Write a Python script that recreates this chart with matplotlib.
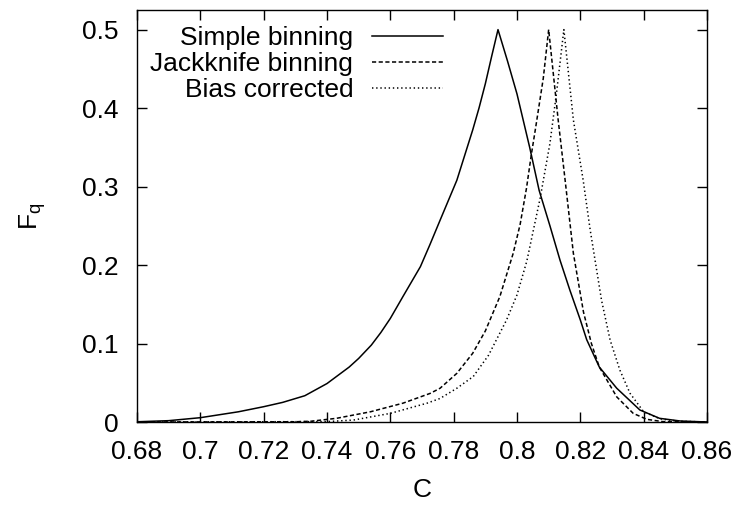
import matplotlib
matplotlib.use("Agg")
import matplotlib.pyplot as plt

# ----------------------------
# Data
# ----------------------------
c_simple = [0.680, 0.690, 0.700, 0.712, 0.720, 0.726, 0.733, 0.740, 0.747, 0.750,
            0.754, 0.757, 0.760, 0.764, 0.7695, 0.7725, 0.7757, 0.781, 0.7835, 0.786,
            0.788, 0.790, 0.792, 0.794, 0.797, 0.800, 0.804, 0.807, 0.8104, 0.8136,
            0.8167, 0.820, 0.822, 0.826, 0.8315, 0.8388, 0.845, 0.8515, 0.860]
f_simple = [0.0003, 0.0017, 0.0055, 0.013, 0.0195, 0.025, 0.0335, 0.049, 0.070, 0.081,
            0.098, 0.114, 0.132, 0.160, 0.198, 0.226, 0.257, 0.308, 0.340, 0.372,
            0.400, 0.431, 0.466, 0.500, 0.460, 0.418, 0.350, 0.295, 0.250, 0.206,
            0.168, 0.130, 0.105, 0.070, 0.043, 0.0153, 0.0047, 0.0013, 0.0]

c_jack = [0.680, 0.730, 0.735, 0.743, 0.7537, 0.764, 0.7726, 0.7757, 0.781, 0.786,
          0.790, 0.7946, 0.7988, 0.801, 0.803, 0.8045, 0.806, 0.8083, 0.810, 0.813,
          0.8152, 0.8178, 0.821, 0.8235, 0.826, 0.8315, 0.8367, 0.841, 0.846, 0.860]
f_jack = [0.0, 0.0003, 0.001, 0.0047, 0.013, 0.024, 0.0365, 0.043, 0.062, 0.0875,
          0.116, 0.160, 0.215, 0.252, 0.298, 0.340, 0.378, 0.438, 0.500, 0.385,
          0.308, 0.215, 0.140, 0.100, 0.070, 0.032, 0.011, 0.0034, 0.0005, 0.0]

c_bias = [0.680, 0.740, 0.7484, 0.760, 0.7716, 0.7757, 0.781, 0.7862, 0.791, 0.7967,
          0.800, 0.8031, 0.8073, 0.8104, 0.8125, 0.8148, 0.8178, 0.8209, 0.8231, 0.8267,
          0.8294, 0.8325, 0.8357, 0.840, 0.8452, 0.851, 0.860]
f_bias = [0.0, 0.0005, 0.0025, 0.011, 0.024, 0.030, 0.043, 0.058, 0.085, 0.130,
          0.162, 0.205, 0.285, 0.355, 0.420, 0.500, 0.385, 0.308, 0.245, 0.155,
          0.1045, 0.066, 0.0365, 0.013, 0.004, 0.001, 0.0]

labels = ["Simple binning", "Jackknife binning", "Bias corrected"]
x_ticks = [0.68, 0.70, 0.72, 0.74, 0.76, 0.78, 0.80, 0.82, 0.84, 0.86]
x_tick_labels = ["0.68", "0.7", "0.72", "0.74", "0.76", "0.78", "0.8", "0.82", "0.84", "0.86"]
y_ticks = [0, 0.1, 0.2, 0.3, 0.4, 0.5]
y_tick_labels = ["0", "0.1", "0.2", "0.3", "0.4", "0.5"]

# ----------------------------
# Plot styling
# ----------------------------
plt.rcParams.update(
    {
        "font.family": ["Liberation Sans", "DejaVu Sans"],
        "font.size": 19,
        "mathtext.fontset": "custom",
        "mathtext.rm": "Liberation Sans",
        "lines.scale_dashes": False,
    }
)

fig = plt.figure(figsize=(7.38, 5.05), dpi=100)
ax = fig.add_axes([137 / 738, 83 / 505, 570 / 738, 412 / 505])

ax.plot(c_simple, f_simple, color="black", linewidth=1.1, label=labels[0])
ax.plot(c_jack, f_jack, color="black", linewidth=1.1, linestyle=(0, (3.0, 1.8)), label=labels[1])
ax.plot(c_bias, f_bias, color="black", linewidth=1.1, linestyle=(0, (1.0, 2.0)), label=labels[2])

ax.set_xlim(0.68, 0.86)
ax.set_ylim(0, 0.525)
ax.set_xticks(x_ticks)
ax.set_xticklabels(x_tick_labels)
ax.set_yticks(y_ticks)
ax.set_yticklabels(y_tick_labels)
ax.tick_params(direction="in", length=7, width=1, top=True, right=True)
ax.tick_params(axis="x", pad=13)
ax.tick_params(axis="y", pad=13)
for s in ax.spines.values():
    s.set_linewidth(1)

ax.set_xlabel("C", labelpad=10)
ax.set_ylabel(r"$\mathrm{F}_\mathrm{q}$", labelpad=25)

ax.legend(
    loc="upper right",
    bbox_to_anchor=(443 / 738, 1 - 26 / 505),
    bbox_transform=fig.transFigure,
    frameon=False,
    markerfirst=False,
    borderpad=0,
    borderaxespad=0,
    handlelength=2.7,
    handletextpad=0.7,
    labelspacing=0.08,
    fontsize=19,
)

fig.savefig("out.png", dpi=100)
